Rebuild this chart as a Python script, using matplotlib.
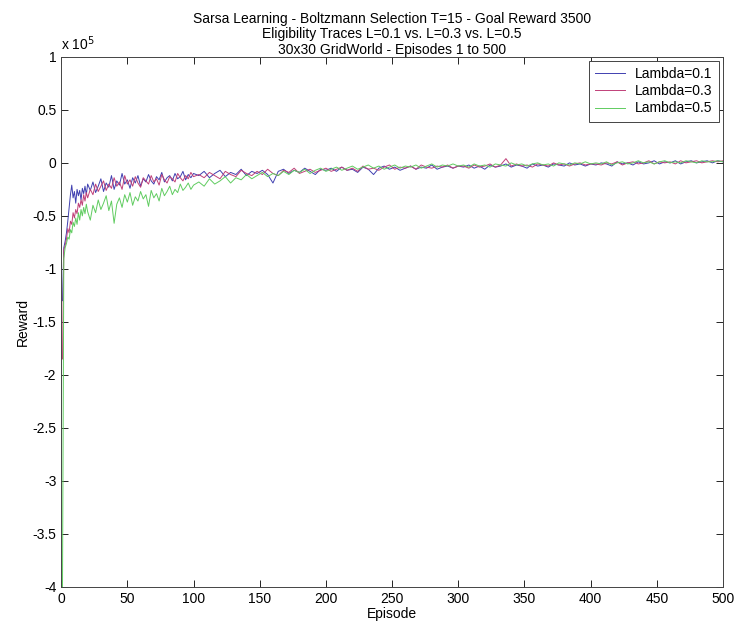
import numpy as np
import matplotlib
matplotlib.use("Agg")
import matplotlib.pyplot as plt

plt.rcParams["font.family"] = ["Liberation Sans", "DejaVu Sans"]

episodes = list(range(1, 21)) + list(range(22, 101, 2)) + list(range(104, 501, 4))

# rewards in units of 1e5
lambda01 = [
    -1.30, -0.80, -0.74, -0.66, -0.55, -0.42, -0.30, -0.21, -0.33, -0.27,
    -0.38, -0.25, -0.31, -0.26, -0.35, -0.24, -0.29, -0.22, -0.30, -0.20,
    -0.26, -0.18, -0.28, -0.22, -0.15, -0.27, -0.19, -0.23, -0.12, -0.25,
    -0.17, -0.21, -0.10, -0.20, -0.16, -0.24, -0.14, -0.19, -0.12, -0.22,
    -0.15, -0.18, -0.11, -0.17, -0.20, -0.13, -0.16, -0.09, -0.18, -0.14,
    -0.12, -0.17, -0.10, -0.15, -0.13, -0.08, -0.16, -0.11, -0.14, -0.10,
    -0.12, -0.08, -0.14, -0.10, -0.07, -0.13, -0.09, -0.11, -0.06, -0.12,
    -0.08, -0.10, -0.07, -0.11, -0.19, -0.08, -0.06, -0.10, -0.07, -0.09,
    -0.05, -0.08, -0.11, -0.06, -0.07,
    -0.05, -0.08, -0.04, -0.07, -0.06, -0.09, -0.04, -0.06, -0.11, -0.05,
    -0.03, -0.06, -0.04, -0.07, -0.05, -0.03, -0.06, -0.04, -0.05, -0.02,
    -0.06, -0.04, -0.03, -0.05, -0.03,
    -0.04, -0.02, -0.05, -0.03, -0.06, -0.02, -0.04, -0.03, -0.01, -0.04,
    -0.02, -0.03, -0.05, -0.01, -0.03, -0.02, -0.04, -0.01, -0.02, -0.03,
    0.00, -0.02, -0.01, -0.03, -0.01,
    -0.02, 0.00, -0.01, -0.03, 0.01, -0.01, 0.00, -0.02, 0.01, -0.01,
    0.00, 0.02, -0.01, 0.01, 0.00, 0.02, -0.01, 0.01, 0.02, 0.00,
    0.01, 0.02, 0.00, 0.02, 0.01,
]
lambda03 = [
    -1.85, -0.82, -0.78, -0.72, -0.62, -0.66, -0.55, -0.58, -0.47, -0.52,
    -0.44, -0.48, -0.38, -0.42, -0.35, -0.40, -0.30, -0.36, -0.28, -0.33,
    -0.25, -0.30, -0.20, -0.27, -0.22, -0.17, -0.26, -0.20, -0.24, -0.14,
    -0.22, -0.18, -0.25, -0.12, -0.20, -0.16, -0.22, -0.13, -0.19, -0.23,
    -0.14, -0.17, -0.20, -0.12, -0.18, -0.15, -0.21, -0.11, -0.16, -0.19,
    -0.13, -0.15, -0.18, -0.10, -0.14, -0.17, -0.12, -0.15, -0.09, -0.13,
    -0.11, -0.14, -0.09, -0.12, -0.15, -0.08, -0.11, -0.13, -0.07, -0.10,
    -0.12, -0.08, -0.11, -0.06, -0.10, -0.12, -0.07, -0.09, -0.05, -0.10,
    -0.08, -0.06, -0.09, -0.07, -0.05,
    -0.08, -0.06, -0.04, -0.07, -0.05, -0.08, -0.03, -0.06, -0.05, -0.07,
    -0.04, -0.02, -0.06, -0.04, -0.05, -0.03, -0.06, -0.02, -0.04, -0.05,
    -0.03, -0.04, -0.02, -0.05, -0.03,
    -0.03, -0.05, -0.02, -0.04, -0.03, -0.01, -0.04, -0.02, 0.04, -0.03,
    -0.01, -0.03, -0.02, -0.04, -0.01, -0.02, -0.03, 0.00, -0.02, -0.01,
    -0.03, -0.01, 0.00, -0.02, -0.01,
    -0.01, -0.02, 0.00, -0.01, 0.01, -0.02, 0.00, 0.01, -0.01, 0.00,
    0.02, -0.01, 0.01, 0.00, 0.01, -0.01, 0.02, 0.00, 0.01, 0.02,
    0.00, 0.01, 0.02, 0.01, 0.02,
]
lambda05 = [
    -4.00, -0.90, -0.80, -0.76, -0.70, -0.72, -0.63, -0.66, -0.56, -0.60,
    -0.52, -0.58, -0.47, -0.54, -0.44, -0.50, -0.42, -0.48, -0.39, -0.46,
    -0.54, -0.40, -0.47, -0.35, -0.44, -0.38, -0.31, -0.45, -0.36, -0.57,
    -0.39, -0.33, -0.42, -0.30, -0.37, -0.28, -0.40, -0.32, -0.36, -0.27,
    -0.34, -0.30, -0.41, -0.26, -0.33, -0.29, -0.36, -0.24, -0.31, -0.27,
    -0.22, -0.30, -0.25, -0.28, -0.20, -0.26, -0.23, -0.19, -0.25, -0.21,
    -0.18, -0.22, -0.15, -0.20, -0.17, -0.13, -0.19, -0.14, -0.16, -0.11,
    -0.15, -0.12, -0.09, -0.13, -0.10, -0.12, -0.08, -0.11, -0.07, -0.09,
    -0.06, -0.10, -0.07, -0.05, -0.08,
    -0.06, -0.04, -0.07, -0.05, -0.03, -0.06, -0.04, -0.02, -0.05, -0.03,
    -0.06, -0.04, -0.02, -0.05, -0.03, -0.04, -0.02, -0.05, -0.03, -0.01,
    -0.04, -0.02, -0.03, -0.01, -0.03,
    -0.02, -0.04, -0.01, -0.03, -0.02, -0.04, -0.01, -0.02, -0.03, 0.00,
    -0.02, -0.01, -0.03, -0.01, 0.00, -0.02, -0.01, -0.03, 0.00, -0.01,
    -0.02, 0.00, -0.01, 0.01, -0.01,
    0.00, -0.01, 0.01, -0.02, 0.00, 0.01, -0.01, 0.00, 0.02, 0.00,
    0.01, -0.01, 0.01, 0.02, 0.00, 0.01, 0.00, 0.02, 0.01, 0.00,
    0.02, 0.01, 0.01, 0.02, 0.01,
]
labels = ["Lambda=0.1", "Lambda=0.3", "Lambda=0.5"]
colors = ["#4040b0", "#c04078", "#60cc60"]

fig = plt.figure(figsize=(7.37, 6.25), dpi=100)
ax = fig.add_axes([0.083, 0.061, 0.898, 0.848])

for ys, lab, col in zip([lambda01, lambda03, lambda05], labels, colors):
    ax.plot(episodes, ys, color=col, linewidth=0.7, label=lab)

ax.set_xlim(0, 500)
ax.set_ylim(-4, 1)
ax.set_xticks(np.arange(0, 501, 50))
ax.set_yticks(np.arange(-4, 1.01, 0.5))
ax.set_yticklabels(["-4", "-3.5", "-3", "-2.5", "-2", "-1.5", "-1", "-0.5", "0", "0.5", "1"])
ax.tick_params(direction="in", top=True, right=True, length=5, labelsize=10, width=0.6)
for s in ax.spines.values():
    s.set_linewidth(0.7)
    s.set_color("#444444")

ax.text(0.0, 1.008, "x 10$^5$", transform=ax.transAxes, fontsize=10, ha="left", va="bottom")
ax.set_xlabel("Episode", fontsize=10, labelpad=1)
ax.set_ylabel("Reward", fontsize=10, labelpad=2)
ax.set_title("Sarsa Learning - Boltzmann Selection T=15 - Goal Reward 3500\n"
             "Eligibility Traces L=0.1 vs. L=0.3 vs. L=0.5\n"
             "30x30 GridWorld - Episodes 1 to 500", fontsize=10, pad=2, linespacing=1.15)

leg = ax.legend(loc="upper right", fontsize=10, fancybox=False, framealpha=1,
                edgecolor="#444444", borderaxespad=0.3, handlelength=2.2,
                handletextpad=0.7, borderpad=0.45, labelspacing=0.22)
leg.get_frame().set_linewidth(0.7)

fig.savefig("out.png", dpi=100)
